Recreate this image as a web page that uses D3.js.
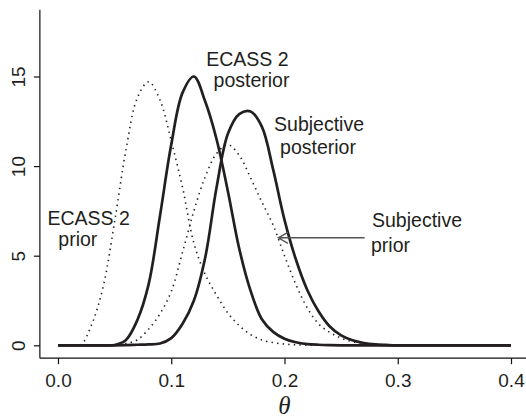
<html>
<head>
<style>
  body { margin: 0; background: #fff; }
  text { font-family: "Liberation Sans", Arial, sans-serif; fill: #231f20; }
</style>
</head>
<body>
<svg id="chart" width="526" height="418"></svg>
<script src="https://cdn.jsdelivr.net/npm/d3@7"></script>
<script>
// theta grid (density curves at these points)
const theta = [0, 0.01, 0.02, 0.03, 0.04, 0.05, 0.06, 0.07, 0.08, 0.09,
               0.10, 0.11, 0.12, 0.13, 0.14, 0.15, 0.16, 0.17, 0.18, 0.19,
               0.20, 0.21, 0.22, 0.23, 0.24, 0.25, 0.26, 0.27, 0.28, 0.29,
               0.30, 0.40]

const ecassPrior = [0, 0, 0.02, 1.2, 3.3, 6.9, 10.9, 13.8, 14.7, 13.7,
                    11.4, 8.8, 5.7, 3.95, 2.8, 1.8, 1.1, 0.6, 0.3, 0.15,
                    0.07, 0.03, 0.01, 0, 0, 0, 0, 0, 0, 0,
                    0, 0]
const ecassPost = [0, 0, 0, 0, 0, 0.02, 0.3, 1.4, 3.4, 7.2,
                   11.2, 14.1, 15.0, 13.6, 11.5, 8.6, 5.4, 3.05, 1.45, 0.75,
                   0.37, 0.17, 0.07, 0.03, 0.01, 0, 0, 0, 0, 0,
                   0, 0]
const subjPrior = [0, 0, 0, 0, 0, 0.02, 0.1, 0.3, 0.9, 1.75,
                   3.0, 5.2, 7.5, 9.4, 10.7, 11.2, 10.6, 9.35, 8.0, 6.7,
                   5.0, 3.4, 2.1, 1.2, 0.72, 0.4, 0.2, 0.1, 0.04, 0.01,
                   0, 0]
const subjPost = [0, 0, 0, 0, 0, 0, 0.01, 0.03, 0.05, 0.1,
                  0.4, 1.2, 2.5, 4.9, 8.8, 11.8, 12.9, 13.05, 12.2, 9.8,
                  7.0, 4.8, 3.1, 1.9, 1.05, 0.55, 0.28, 0.13, 0.05, 0.02,
                  0, 0]

const xTicks = [0, 0.1, 0.2, 0.3, 0.4]
const yTicks = [0, 5, 10, 15]

// labels: lines of text with their centre in data units
const labels = [
  { text: "ECASS 2", t: 0.1673, v: 15.6 },
  { text: "posterior", t: 0.1709, v: 14.4 },
  { text: "Subjective", t: 0.2305, v: 11.98 },
  { text: "posterior", t: 0.2296, v: 10.66 },
  { text: "ECASS 2", t: 0.0271, v: 6.73 },
  { text: "prior", t: 0.0175, v: 5.52 },
  { text: "Subjective", t: 0.317, v: 6.58 },
  { text: "prior", t: 0.2936, v: 5.22 }
]
const arrowFrom = [0.2708, 6.0]
const arrowTo = [0.1946, 6.0]

const svg = d3.select("#chart")

const x = d3.scaleLinear().domain([0, 0.4]).range([58, 511])
const y = d3.scaleLinear().domain([0, 18]).range([345.3, 22.74])

// R style: 4% extension of the ranges
const boxLeft = x(-0.016), boxRight = x(0.416)
const boxBottom = y(-0.72), boxTop = y(18.72)

// box (left and bottom sides only)
svg.append("line").attr("x1", boxLeft).attr("x2", boxLeft).attr("y1", boxTop).attr("y2", boxBottom)
   .attr("stroke", "#111").attr("stroke-width", 1.2)
svg.append("line").attr("x1", boxLeft).attr("x2", boxRight).attr("y1", boxBottom).attr("y2", boxBottom)
   .attr("stroke", "#111").attr("stroke-width", 1.2)

// axes
let xAxis = svg.append("g")
    .attr("transform", `translate(0,${boxBottom})`)
    .call(d3.axisBottom(x).tickValues(xTicks).tickFormat(d3.format(".1f")).tickSize(6).tickPadding(9.3))
xAxis.select(".domain").remove()
xAxis.selectAll("line").attr("stroke", "#111").attr("stroke-width", 1.2)
xAxis.selectAll("text").style("font-size", "19px").attr("fill", "#231f20")

let yAxis = svg.append("g")
    .attr("transform", `translate(${boxLeft},0)`)
    .call(d3.axisLeft(y).tickValues(yTicks).tickSize(6))
yAxis.select(".domain").remove()
yAxis.selectAll("line").attr("stroke", "#111").attr("stroke-width", 1.2)
yAxis.selectAll("text")
    .attr("x", null).attr("dy", null)
    .attr("text-anchor", "middle")
    .attr("transform", "translate(-15.2,0) rotate(-90)")
    .style("font-size", "19px").attr("fill", "#231f20")

// theta label
svg.append("text")
    .attr("x", x(0.2)).attr("y", 414)
    .attr("text-anchor", "middle")
    .style("font-family", "'Liberation Serif', 'DejaVu Serif', serif")
    .style("font-style", "italic")
    .style("font-size", "25px")
    .text("θ")

// curves, smooth spline through the read points
const line = d3.line()
    .x((d, i) => x(theta[i]))
    .y(d => y(d))
    .curve(d3.curveCatmullRom.alpha(0.5))

let curves = svg.append("g").attr("class", "curves")
curves.selectAll("path.prior")
    .data([ecassPrior, subjPrior])
    .enter()
    .append("path")
        .attr("class", "prior")
        .attr("d", line)
        .attr("fill", "none")
        .attr("stroke", "#231f20")
        .attr("stroke-width", 1.6)
        .attr("stroke-dasharray", "1.4,4.2")
curves.selectAll("path.post")
    .data([ecassPost, subjPost])
    .enter()
    .append("path")
        .attr("class", "post")
        .attr("d", line)
        .attr("fill", "none")
        .attr("stroke", "#231f20")
        .attr("stroke-width", 2.7)
        .attr("stroke-linejoin", "round")

// annotations
svg.append("g").selectAll("text")
    .data(labels)
    .enter()
    .append("text")
        .attr("x", d => x(d.t))
        .attr("y", d => y(d.v))
        .attr("text-anchor", "middle")
        .style("font-size", "19.5px")
        .text(d => d.text)

// arrow to the subjective prior
const ax0 = x(arrowFrom[0]), ay0 = y(arrowFrom[1])
const ax1 = x(arrowTo[0]), ay1 = y(arrowTo[1])
const head = 11, ang = Math.PI / 6
svg.append("path")
    .attr("d", `M${ax0},${ay0}L${ax1},${ay1}` +
               `M${ax1 + head * Math.cos(ang)},${ay1 - head * Math.sin(ang)}L${ax1},${ay1}` +
               `L${ax1 + head * Math.cos(ang)},${ay1 + head * Math.sin(ang)}`)
    .attr("fill", "none")
    .attr("stroke", "#555")
    .attr("stroke-width", 1.4)
</script>
</body>
</html>
